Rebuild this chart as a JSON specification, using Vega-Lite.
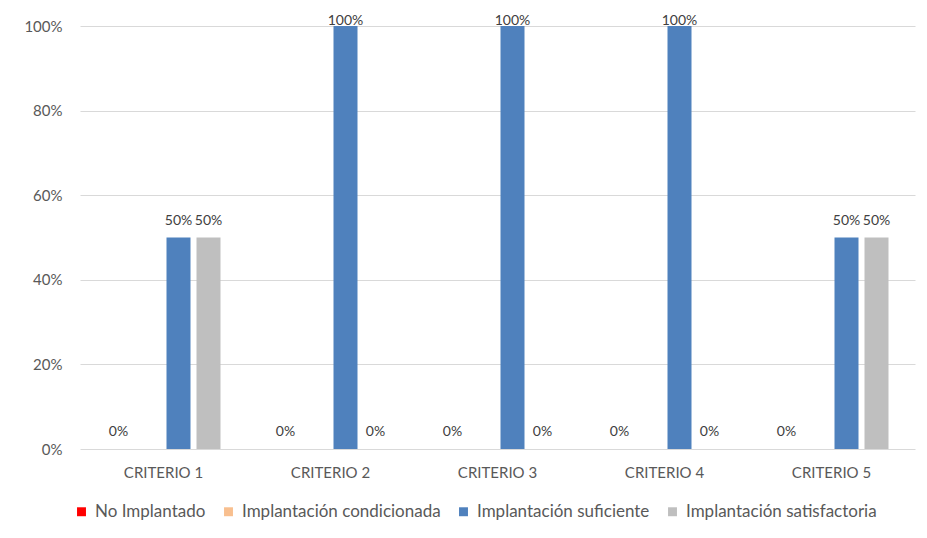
{
  "$schema": "https://vega.github.io/schema/vega-lite/v6.json",
  "width": 835,
  "height": 423,
  "autosize": {"type": "none"},
  "padding": {"left": 80, "top": 26, "right": 12, "bottom": 89},
  "background": "white",
  "data": {
    "values": [
      {"criterio": "CRITERIO 1", "serie": "No Implantado", "valor": 0},
      {"criterio": "CRITERIO 1", "serie": "Implantación condicionada", "valor": 0},
      {"criterio": "CRITERIO 1", "serie": "Implantación suficiente", "valor": 0.5},
      {"criterio": "CRITERIO 1", "serie": "Implantación satisfactoria", "valor": 0.5},
      {"criterio": "CRITERIO 2", "serie": "No Implantado", "valor": 0},
      {"criterio": "CRITERIO 2", "serie": "Implantación condicionada", "valor": 0},
      {"criterio": "CRITERIO 2", "serie": "Implantación suficiente", "valor": 1},
      {"criterio": "CRITERIO 2", "serie": "Implantación satisfactoria", "valor": 0},
      {"criterio": "CRITERIO 3", "serie": "No Implantado", "valor": 0},
      {"criterio": "CRITERIO 3", "serie": "Implantación condicionada", "valor": 0},
      {"criterio": "CRITERIO 3", "serie": "Implantación suficiente", "valor": 1},
      {"criterio": "CRITERIO 3", "serie": "Implantación satisfactoria", "valor": 0},
      {"criterio": "CRITERIO 4", "serie": "No Implantado", "valor": 0},
      {"criterio": "CRITERIO 4", "serie": "Implantación condicionada", "valor": 0},
      {"criterio": "CRITERIO 4", "serie": "Implantación suficiente", "valor": 1},
      {"criterio": "CRITERIO 4", "serie": "Implantación satisfactoria", "valor": 0},
      {"criterio": "CRITERIO 5", "serie": "No Implantado", "valor": 0},
      {"criterio": "CRITERIO 5", "serie": "Implantación condicionada", "valor": 0},
      {"criterio": "CRITERIO 5", "serie": "Implantación suficiente", "valor": 0.5},
      {"criterio": "CRITERIO 5", "serie": "Implantación satisfactoria", "valor": 0.5}
    ]
  },
  "encoding": {
    "x": {
      "field": "criterio",
      "type": "nominal",
      "scale": {"paddingInner": 0, "paddingOuter": 0},
      "axis": {
        "title": null,
        "labelAngle": 0,
        "domain": false,
        "ticks": false,
        "labelPadding": 16,
        "labelFont": "Lato",
        "labelFontSize": 15,
        "labelColor": "#595959"
      }
    },
    "xOffset": {
      "field": "serie",
      "type": "nominal",
      "sort": ["No Implantado", "Implantación condicionada", "Implantación suficiente", "Implantación satisfactoria"],
      "scale": {"paddingInner": 0.2, "paddingOuter": 0.883}
    },
    "y": {
      "field": "valor",
      "type": "quantitative",
      "scale": {"domain": [0, 1]},
      "axis": {
        "title": null,
        "format": ".0%",
        "values": [0, 0.2, 0.4, 0.6, 0.8, 1],
        "domain": false,
        "ticks": false,
        "labelPadding": 18,
        "labelFont": "Lato",
        "labelFontSize": 15,
        "labelColor": "#595959",
        "gridColor": "#D9D9D9",
        "gridWidth": 1
      }
    }
  },
  "layer": [
    {
      "mark": {"type": "bar"},
      "encoding": {
        "color": {
          "field": "serie",
          "type": "nominal",
          "sort": ["No Implantado", "Implantación condicionada", "Implantación suficiente", "Implantación satisfactoria"],
          "scale": {
            "domain": ["No Implantado", "Implantación condicionada", "Implantación suficiente", "Implantación satisfactoria"],
            "range": ["#FF0000", "#F8BF8F", "#4F81BD", "#BFBFBF"]
          },
          "legend": {
            "title": null,
            "orient": "none",
            "direction": "horizontal",
            "legendX": -7,
            "legendY": 477,
            "symbolType": "square",
            "symbolSize": 80,
            "symbolStrokeWidth": 0,
            "labelFont": "Lato",
            "labelFontSize": 17,
            "labelColor": "#595959",
            "labelOffset": 5,
            "columnPadding": 14,
            "labelLimit": 400
          }
        }
      }
    },
    {
      "transform": [{"filter": "datum.serie != 'Implantación condicionada' && datum.valor < 1"}],
      "mark": {
        "type": "text",
        "baseline": "bottom",
        "dy": -10,
        "font": "Lato",
        "fontSize": 14,
        "color": "#404040"
      },
      "encoding": {
        "text": {"field": "valor", "type": "quantitative", "format": ".0%"}
      }
    },
    {
      "transform": [{"filter": "datum.valor >= 1"}],
      "mark": {
        "type": "text",
        "baseline": "bottom",
        "dy": 2,
        "font": "Lato",
        "fontSize": 14,
        "color": "#404040"
      },
      "encoding": {
        "text": {"field": "valor", "type": "quantitative", "format": ".0%"}
      }
    }
  ],
  "config": {
    "view": {"stroke": null}
  }
}
